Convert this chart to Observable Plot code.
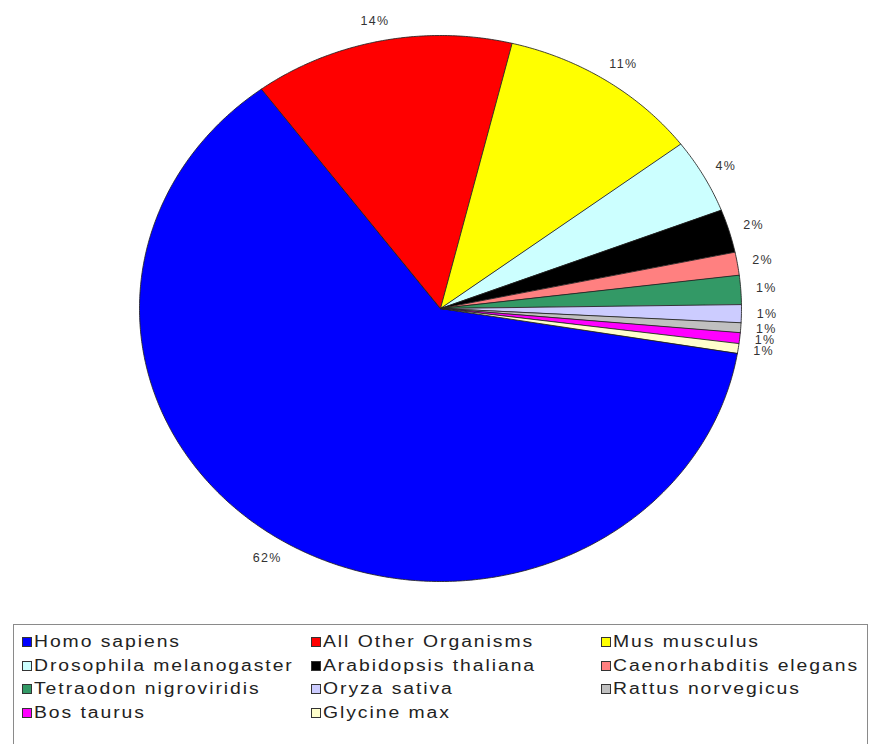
<!DOCTYPE html>
<html>
<head>
<meta charset="utf-8">
<script src="https://cdn.jsdelivr.net/npm/d3@7"></script>
<script src="https://cdn.jsdelivr.net/npm/@observablehq/plot@0.6"></script>
<style>
html, body { margin: 0; padding: 0; background: #fff; overflow: hidden; }
#wrap { position: relative; width: 872px; height: 744px; overflow: hidden; font-family: "Liberation Sans", Arial, sans-serif; background: #fff; }
#chart { position: absolute; left: 0; top: 0; }
#chart svg text { letter-spacing: 1.3px; }
#legend { position: absolute; left: 13px; top: 624px; width: 855px; height: 140px; border: 1.5px solid #8a8a8a; box-sizing: border-box; }
.item { position: absolute; height: 20px; }
.sw { position: absolute; left: 0; top: 5px; width: 10px; height: 10px; border: 1px solid #333; box-sizing: border-box; }
.lbl { position: absolute; left: 12px; top: 0; font-size: 16px; line-height: 20px; color: #222; letter-spacing: 1.6px; transform: scaleX(1.21); transform-origin: 0 50%; white-space: nowrap; }
</style>
</head>
<body>
<div id="wrap">
  <div id="chart"></div>
  <div id="legend"></div>
</div>
<script>
// ---- data ----
const names = [
  "Homo sapiens", "All Other Organisms", "Mus musculus",
  "Drosophila melanogaster", "Arabidopsis thaliana", "Caenorhabditis elegans",
  "Tetraodon nigroviridis", "Oryza sativa", "Rattus norvegicus",
  "Bos taurus", "Glycine max"
];
const values = [62.25, 13.97, 10.89, 4.42, 2.56, 1.36, 1.72, 1.06, 0.58, 0.64, 0.56];
const pctLabels = ["62%", "14%", "11%", "4%", "2%", "2%", "1%", "1%", "1%", "1%", "1%"];
const colors = [
  "#0000FF", "#FF0000", "#FFFF00",
  "#CCFFFF", "#000000", "#FF8080",
  "#339966", "#CCCCFF", "#C0C0C0",
  "#FF00FF", "#FFFFCC"
];
const startAngle = 99.4; // degrees, clockwise from 12 o'clock

// ---- geometry derived from data ----
const W = 872, H = 615;
const xRange = [139, 741], yRange = [581, 35];
const rx = (xRange[1] - xRange[0]) / 2, ry = (yRange[0] - yRange[1]) / 2;
const rad = d => d * Math.PI / 180;
const total = d3.sum(values);
let acc = startAngle;
const slices = names.map((n, i) => {
  const a0 = acc, a1 = acc + values[i] / total * 360;
  acc = a1;
  return {name: n, a0, a1, label: pctLabels[i]};
});

const pts = [];
for (const s of slices) {
  pts.push({name: s.name, x: 0, y: 0});
  const n = Math.max(2, Math.ceil((s.a1 - s.a0) / 0.5));
  for (let k = 0; k <= n; k++) {
    const a = rad(s.a0 + (s.a1 - s.a0) * k / n);
    pts.push({name: s.name, x: Math.sin(a), y: Math.cos(a)});
  }
}

const gap = 14;
const labelData = slices.map(s => {
  const m = rad((s.a0 + s.a1) / 2);
  const hw = 5.8 * s.label.length, hh = 6;
  return {
    label: s.label,
    x: Math.sin(m) * (1 + (hw + gap) / rx),
    y: Math.cos(m) * (1 + (hh + gap) / ry)
  };
});

const chart = Plot.plot({
  width: W,
  height: H,
  margin: 0,
  x: {domain: [-1, 1], range: xRange, axis: null},
  y: {domain: [-1, 1], range: yRange, axis: null},
  color: {domain: names, range: colors},
  style: {background: "white", fontFamily: "Liberation Sans, Arial, sans-serif"},
  marks: [
    Plot.line(pts, {x: "x", y: "y", z: "name", fill: "name", stroke: "#222", strokeWidth: 1, strokeOpacity: 0.85, curve: "linear-closed"}),
    Plot.text(labelData, {x: "x", y: "y", text: "label", fontSize: 12.5, fill: "#333", textAnchor: "middle", lineAnchor: "middle"})
  ]
});
document.getElementById("chart").appendChild(chart);

// ---- legend ----
const legend = document.getElementById("legend");
const colX = [22, 311, 601];
const rowY = [642, 666, 689.5, 713.5];
const box = {left: 13 + 1.5, top: 624 + 1.5};
names.forEach((n, i) => {
  const c = i % 3, r = Math.floor(i / 3);
  const item = document.createElement("div");
  item.className = "item";
  item.style.left = (colX[c] - box.left) + "px";
  item.style.top = (rowY[r] - 10 - box.top) + "px";
  const sw = document.createElement("div");
  sw.className = "sw";
  sw.style.background = colors[i];
  const lbl = document.createElement("div");
  lbl.className = "lbl";
  lbl.textContent = n;
  item.appendChild(sw);
  item.appendChild(lbl);
  legend.appendChild(item);
});
</script>
</body>
</html>
